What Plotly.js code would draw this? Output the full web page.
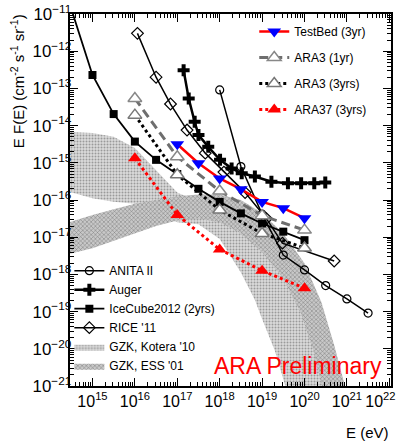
<!DOCTYPE html>
<html>
<head>
<meta charset="utf-8">
<script src="https://cdn.plot.ly/plotly-3.0.1.min.js"></script>
<style>
html,body{margin:0;padding:0;background:#fff;}
#chart{width:405px;height:443px;}
</style>
</head>
<body>
<div id="chart"></div>
<script>
// ---- data (energy in eV, E F(E) in cm^-2 s^-1 sr^-1) ----
const anitaE = [1e18, 3.16e18, 1e19, 3.16e19, 1e20, 3.16e20, 1e21, 3.16e21];
const anitaF = [9.12e-14, 7.94e-16, 4.17e-17, 3.31e-18, 1.32e-18, 5.0e-19, 2.19e-19, 9.1e-20];

const augerE = [1.41e17, 1.86e17, 2.57e17, 3.16e17, 5.37e17, 1.02e18, 1.91e18, 3.31e18, 6.76e18, 1.66e19, 4.07e19, 8.32e19, 1.70e20, 3.09e20];
const augerF = [3.09e-13, 5.37e-14, 1.26e-14, 5.62e-15, 2.69e-15, 1.20e-15, 7.08e-16, 5.25e-16, 4.27e-16, 3.09e-16, 2.82e-16, 2.82e-16, 2.82e-16, 2.95e-16];

const icecubeE = [2e14, 1e15, 3.16e15, 1e16, 3.16e16, 1e17, 3.16e17, 1e18, 3.16e18, 1e19, 3.16e19, 1e20];
const icecubeF = [7e-11, 2.29e-13, 2.04e-14, 3.72e-15, 1.20e-15, 5.01e-16, 2.0e-16, 8.9e-17, 4.37e-17, 2.34e-17, 1.41e-17, 8.32e-18];

const riceE = [1.15e16, 3.16e16, 6.92e16, 1.70e17, 4.57e17, 1.26e18, 3.98e18, 1.26e19, 3.02e19, 5.01e20];
const riceF = [3.02e-12, 2.0e-13, 3.80e-14, 7.59e-15, 1.82e-15, 5.62e-16, 1.58e-16, 3.16e-17, 6.92e-18, 2.29e-18];

const testbedE = [1e17, 3.16e17, 1e18, 3.16e18, 1e19, 3.16e19, 1e20];
const testbedF = [3.16e-15, 9.77e-16, 3.80e-16, 1.95e-16, 8.9e-17, 6.03e-17, 3.24e-17];

const ara3E = [1e16, 1e17, 1e18, 1e19, 1e20];
const ara3OneYrF = [5.37e-14, 1.45e-15, 1.74e-16, 3.80e-17, 1.55e-17];
const ara3ThreeYrF = [1.91e-14, 4.79e-16, 5.37e-17, 1.26e-17, 5.13e-18];

const ara37E = [1e16, 1e17, 1e18, 1e19, 1e20];
const ara37F = [1.32e-15, 3.98e-17, 4.68e-18, 1.26e-18, 4.27e-19];

// GZK bands: upper and lower edges
const koteraUpE = [2.82e14, 1e15, 3.16e15, 1e16, 3.16e16, 1e17, 3.16e17, 1e18, 3.16e18, 1e19, 3.16e19, 1e20, 2.51e20, 5.62e20];
const koteraUpF = [6.76e-15, 6.31e-15, 5.01e-15, 2.51e-15, 6.31e-16, 1.585e-16, 8.91e-17, 7.94e-17, 5.01e-17, 1.585e-17, 2.51e-18, 2.51e-19, 1.585e-20, 6.31e-22];
const koteraLoE = [2.82e14, 1e15, 3.16e15, 1e16, 3.16e16, 1e17, 3.16e17, 1e18, 3.16e18, 6.76e18, 1e19, 2.0e19, 3.98e19];
const koteraLoF = [1.66e-16, 1.12e-16, 8.91e-17, 7.94e-17, 3.98e-17, 2.51e-17, 2.24e-17, 8.91e-18, 1.12e-18, 2.04e-19, 6.31e-20, 8.91e-21, 6.31e-22];

const essUpE = [2.82e14, 1e15, 3.16e15, 1e16, 3.16e16, 1e17, 3.16e17, 1e18, 3.16e18, 1e19, 3.16e19, 1e20, 2.51e20, 5.01e20, 1e21];
const essUpF = [2.51e-17, 3.98e-17, 5.62e-17, 7.94e-17, 1.0e-16, 1.26e-16, 1.41e-16, 1.41e-16, 1.0e-16, 4.47e-17, 1.26e-17, 2.0e-18, 1.78e-19, 1.26e-20, 6.31e-22];
const essLoE = [2.82e14, 1e15, 3.16e15, 1e16, 3.16e16, 1e17, 3.16e17, 1e18, 3.16e18, 1e19, 3.16e19, 7.94e19, 1.585e20, 2.82e20];
const essLoF = [3.55e-18, 5.01e-18, 7.94e-18, 1.26e-17, 2.0e-17, 2.82e-17, 3.16e-17, 2.51e-17, 1.26e-17, 3.98e-18, 7.94e-19, 1e-19, 1e-20, 6.31e-22];

// x tick labels (last one padded so it stays inside the page, as in the reference)
const xTickVals = [1e15, 1e16, 1e17, 1e18, 1e19, 1e20, 1e21, 1e22];
const xTickText = ['10<sup>15</sup>', '10<sup>16</sup>', '10<sup>17</sup>', '10<sup>18</sup>',
                   '10<sup>19</sup>', '10<sup>20</sup>', '10<sup>21</sup>',
                   '10<sup>22</sup>\u00a0\u00a0\u00a0\u00a0'];

// ---- build traces ----
function band(upE, upF, loE, loF) {
  return {
    x: upE.concat(loE.slice().reverse()),
    y: upF.concat(loF.slice().reverse())
  };
}
const kot = band(koteraUpE, koteraUpF, koteraLoE, koteraLoF);
const ess = band(essUpE, essUpF, essLoE, essLoF);

const FONT = 'Liberation Sans, Arial, sans-serif';

const traces = [
  { name: "GZK, Kotera '10", x: kot.x, y: kot.y, mode: 'lines', fill: 'toself',
    fillcolor: '#d6d6d6', line: {width: 0, color: 'rgba(0,0,0,0)'},
    fillpattern: {shape: '.', size: 3, solidity: 0.35, fgcolor: '#9a9a9a', bgcolor: '#dcdcdc'},
    legend: 'legend2', legendrank: 5, legendgroup: 'g5', hoverinfo: 'skip' },
  { name: "GZK, ESS '01", x: ess.x, y: ess.y, mode: 'lines', fill: 'toself',
    fillcolor: '#bdbdbd', line: {width: 0, color: 'rgba(0,0,0,0)'},
    fillpattern: {shape: 'x', size: 3, solidity: 0.3, fgcolor: '#7a7a7a', bgcolor: '#c8c8c8'},
    legend: 'legend2', legendrank: 6, legendgroup: 'g6', hoverinfo: 'skip' },
  { name: 'ANITA II', x: anitaE, y: anitaF, mode: 'lines+markers',
    line: {color: '#000', width: 1.5},
    marker: {symbol: 'circle-open', size: 8, color: '#000', line: {width: 1.2}},
    legend: 'legend2', legendrank: 1, legendgroup: 'g1' },
  { name: 'Auger', x: augerE, y: augerF, mode: 'lines+markers',
    line: {color: '#000', width: 2.5},
    marker: {symbol: 'cross', size: 10, color: '#000'},
    legend: 'legend2', legendrank: 2, legendgroup: 'g2' },
  { name: 'IceCube2012 (2yrs)', x: icecubeE, y: icecubeF, mode: 'lines+markers',
    line: {color: '#000', width: 1.8},
    marker: {symbol: 'square', size: 8, color: '#000'},
    legend: 'legend2', legendrank: 3, legendgroup: 'g3' },
  { name: "RICE '11", x: riceE, y: riceF, mode: 'lines+markers',
    line: {color: '#000', width: 1.5},
    marker: {symbol: 'diamond-open', size: 9, color: '#000', line: {width: 1.2}},
    legend: 'legend2', legendrank: 4, legendgroup: 'g4' },
  { name: 'ARA37 (3yrs)', x: ara37E, y: ara37F, mode: 'lines+markers',
    line: {color: '#ff0000', width: 3, dash: 'dot'},
    marker: {symbol: 'triangle-up', size: 12, color: '#ff0000'},
    legend: 'legend', legendrank: 4, legendgroup: 'a4' },
  { name: 'ARA3 (3yrs)', x: ara3E, y: ara3ThreeYrF, mode: 'lines+markers',
    line: {color: '#000', width: 3, dash: 'dot'},
    marker: {symbol: 'triangle-up', size: 12, color: '#fff', line: {color: '#777', width: 1.5}},
    legend: 'legend', legendrank: 3, legendgroup: 'a3' },
  { name: 'ARA3 (1yr)', x: ara3E, y: ara3OneYrF, mode: 'lines+markers',
    line: {color: '#6e6e6e', width: 3, dash: '9px,5px'},
    marker: {symbol: 'triangle-up', size: 12, color: '#fff', line: {color: '#888', width: 1.5}},
    legend: 'legend', legendrank: 2, legendgroup: 'a2' },
  { name: 'TestBed (3yr)', x: testbedE, y: testbedF, mode: 'lines+markers',
    line: {color: '#ff0000', width: 2.5},
    marker: {symbol: 'triangle-down', size: 12, color: '#0000ff'},
    legend: 'legend', legendrank: 1, legendgroup: 'a1' }
];

const layout = {
  width: 405, height: 443,
  margin: {l: 70, r: 14, t: 14, b: 57},
  paper_bgcolor: '#fff', plot_bgcolor: '#fff',
  font: {family: FONT, color: '#000'},
  showlegend: true,
  xaxis: {
    type: 'log', range: [14.47, 22.04], tickmode: 'array',
    tickvals: xTickVals, ticktext: xTickText, tickangle: 0,
    ticklabeloverflow: 'allow',
    ticks: 'inside', ticklen: 8, tickwidth: 1, tickcolor: '#000',
    minor: {ticks: 'inside', ticklen: 4, tickcolor: '#000', showgrid: false, dtick: 'D1'},
    showline: true, linecolor: '#000', linewidth: 2, mirror: 'allticks',
    showgrid: false, zeroline: false,
    tickfont: {size: 16, family: FONT}
  },
  yaxis: {
    type: 'log', range: [-21, -11], dtick: 1, exponentformat: 'power',
    ticks: 'inside', ticklen: 8, tickwidth: 1, tickcolor: '#000',
    ticklabelstandoff: -6,
    minor: {ticks: 'inside', ticklen: 4, tickcolor: '#000', showgrid: false},
    showline: true, linecolor: '#000', linewidth: 2, mirror: 'allticks',
    showgrid: false, zeroline: false,
    tickfont: {size: 13.5, family: FONT}
  },
  legend: {
    x: 0.574, y: 0.992, xanchor: 'left', yanchor: 'top',
    bgcolor: 'rgba(0,0,0,0)', font: {size: 12, family: FONT},
    tracegroupgap: 7, itemwidth: 30
  },
  legend2: {
    x: -0.002, y: 0.349, xanchor: 'left', yanchor: 'top',
    bgcolor: 'rgba(0,0,0,0)', font: {size: 12, family: FONT},
    tracegroupgap: 0, itemwidth: 30
  },
  annotations: [
    { text: 'E F(E) (cm<sup>-2</sup> s<sup>-1</sup> sr<sup>-1</sup>)',
      xref: 'paper', yref: 'paper', x: -0.165, y: 1.005,
      xanchor: 'center', yanchor: 'top', textangle: -90, showarrow: false,
      font: {size: 15, family: FONT} },
    { text: 'E (eV)', xref: 'paper', yref: 'paper', x: 1.0, y: -0.124,
      xanchor: 'right', yanchor: 'middle', showarrow: false,
      font: {size: 15, family: FONT} },
    { text: 'ARA Preliminary', xref: 'paper', yref: 'paper', x: 0.711, y: 0.054,
      xanchor: 'center', yanchor: 'middle', showarrow: false,
      font: {size: 23, family: FONT, color: '#ff0000'} }
  ]
};

Plotly.newPlot('chart', traces, layout, {displayModeBar: false, staticPlot: true});
</script>
</body>
</html>
